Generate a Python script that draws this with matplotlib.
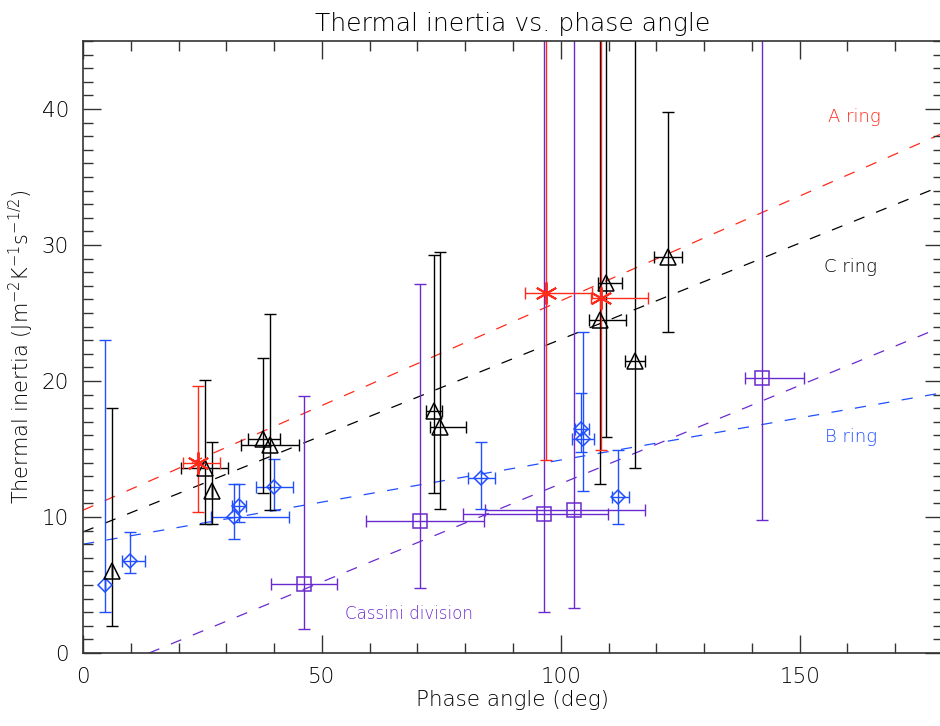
import matplotlib
matplotlib.use("Agg")
import matplotlib.pyplot as plt
import numpy as np

plt.rcParams['font.family'] = ['DejaVu Sans']
plt.rcParams['font.weight'] = 'light'
plt.rcParams['axes.titleweight'] = 'light'
plt.rcParams['axes.labelweight'] = 'light'

# A ring (red asterisks)
a_phase = [24.1, 96.9, 108.5]
a_ti = [14.0, 26.5, 26.1]
a_ti_low = [10.4, 14.2, 14.9]
a_ti_high = [19.6, 60.0, 60.0]
a_phase_low = [20.9, 92.5, 106.4]
a_phase_high = [28.7, 106.5, 118.2]

# C ring (black triangles)
c_phase = [6.1, 25.5, 26.9, 37.6, 39.1, 73.5, 74.7, 108.3, 109.5, 115.5, 122.5]
c_ti = [6.0, 13.6, 11.9, 15.7, 15.3, 17.8, 16.6, 24.5, 27.2, 21.5, 29.1]
c_ti_low = [2.0, 9.5, 9.5, 11.8, 10.5, 11.8, 10.6, 12.4, 15.9, 13.6, 23.6]
c_ti_high = [18.0, 20.1, 15.5, 21.7, 24.9, 29.3, 29.5, 60.0, 60.0, 60.0, 39.8]
c_phase_low = [6.1, 20.6, 26.9, 34.6, 33.0, 71.8, 72.7, 105.9, 107.7, 113.4, 119.6]
c_phase_high = [6.1, 30.4, 26.9, 41.2, 45.2, 75.2, 80.1, 113.7, 112.8, 117.6, 125.4]

# B ring (blue diamonds)
b_phase = [4.7, 9.8, 31.6, 32.6, 40.0, 83.3, 104.2, 104.7, 112.0]
b_ti = [5.0, 6.8, 10.0, 10.8, 12.2, 12.9, 16.5, 15.7, 11.5]
b_ti_low = [3.0, 5.9, 8.4, 9.6, 10.5, 10.6, 14.8, 11.9, 9.5]
b_ti_high = [23.0, 8.9, 12.4, 12.4, 14.3, 15.5, 19.1, 23.6, 14.9]
b_phase_low = [4.7, 8.1, 26.7, 31.1, 36.3, 80.5, 103.0, 102.4, 110.7]
b_phase_high = [4.7, 13.0, 43.2, 34.1, 43.9, 86.2, 105.9, 107.0, 114.2]

# Cassini division (purple squares)
d_phase = [46.2, 70.6, 96.4, 102.8, 142.1]
d_ti = [5.1, 9.7, 10.2, 10.5, 20.2]
d_ti_low = [1.8, 4.8, 3.0, 3.3, 9.8]
d_ti_high = [18.9, 27.1, 60.0, 60.0, 60.0]
d_phase_low = [39.3, 59.2, 79.6, 84.1, 138.5]
d_phase_high = [53.1, 83.9, 109.9, 117.6, 151.0]

# Linear fits: (intercept, slope)
fit_a = (10.5, 0.154)
fit_c = (8.9, 0.1416)
fit_b = (8.0, 0.0619)
fit_d = (-2.0, 0.1445)

RED = '#ff2a1a'
BLACK = '#000000'
BLUE = '#1f4fff'
PURPLE = '#6a2ad0'

fig = plt.figure(figsize=(9.4, 7.26), dpi=100)
ax = fig.add_axes([83 / 940, 73 / 726, 860 / 940, 612 / 726])


def draw_series(x, y, ylo, yhi, xlo, xhi, color, marker, ms, mew=1.1):
    x = np.asarray(x)
    y = np.asarray(y)
    yerr = [y - np.asarray(ylo), np.asarray(yhi) - y]
    xerr = [x - np.asarray(xlo), np.asarray(xhi) - x]
    ax.errorbar(x, y, yerr=yerr, xerr=xerr, fmt='none', ecolor=color,
                elinewidth=1.0, capsize=4, capthick=1.0, zorder=2)
    ax.plot(x, y, linestyle='none', marker=marker, ms=ms, mfc='none',
            mec=color, mew=mew, zorder=3)


def draw_fit(fit, color):
    xs = np.array([0.0, 180.0])
    ax.plot(xs, fit[0] + fit[1] * xs, color=color, lw=0.9,
            dashes=(9, 10), zorder=1)


draw_fit(fit_a, RED)
draw_fit(fit_c, BLACK)
draw_fit(fit_b, BLUE)
draw_fit(fit_d, PURPLE)

draw_series(d_phase, d_ti, d_ti_low, d_ti_high, d_phase_low, d_phase_high,
            PURPLE, 's', 10)
draw_series(b_phase, b_ti, b_ti_low, b_ti_high, b_phase_low, b_phase_high,
            BLUE, 'D', 7.5)
draw_series(c_phase, c_ti, c_ti_low, c_ti_high, c_phase_low, c_phase_high,
            BLACK, '^', 11)
draw_series(a_phase, a_ti, a_ti_low, a_ti_high, a_phase_low, a_phase_high,
            RED, (6, 2, 0), 16, mew=1.4)

ax.text(161.5, 39.4, 'A ring', color=RED, fontsize=13, ha='center', va='center')
ax.text(160.7, 28.4, 'C ring', color=BLACK, fontsize=13, ha='center', va='center')
ax.text(160.7, 15.9, 'B ring', color=BLUE, fontsize=13, ha='center', va='center')
ax.text(54.8, 2.9, 'Cassini division', color=PURPLE, fontsize=12,
        ha='left', va='center')

ax.set_xlim(0, 180)
ax.set_ylim(0, 45)
ax.set_xticks([0, 50, 100, 150])
ax.set_xticks(np.arange(0, 181, 10), minor=True)
ax.set_yticks([0, 10, 20, 30, 40])
ax.set_yticks(np.arange(0, 46, 1), minor=True)
ax.tick_params(which='both', direction='in', top=True, right=True,
               labelsize=15.5, width=1.0, color='#333333')
ax.tick_params(which='major', length=13, pad=10)
ax.tick_params(which='minor', length=7)
for s in ax.spines.values():
    s.set_linewidth(1.2)
    s.set_color('#333333')

ax.set_title('Thermal inertia vs. phase angle', fontsize=18, pad=7)
ax.set_xlabel('Phase angle (deg)', fontsize=15.5, labelpad=2)
ax.set_ylabel(r'Thermal inertia (Jm$^{-2}$K$^{-1}$s$^{-1/2}$)', fontsize=15,
              labelpad=4)

fig.savefig('out.png', dpi=100)
